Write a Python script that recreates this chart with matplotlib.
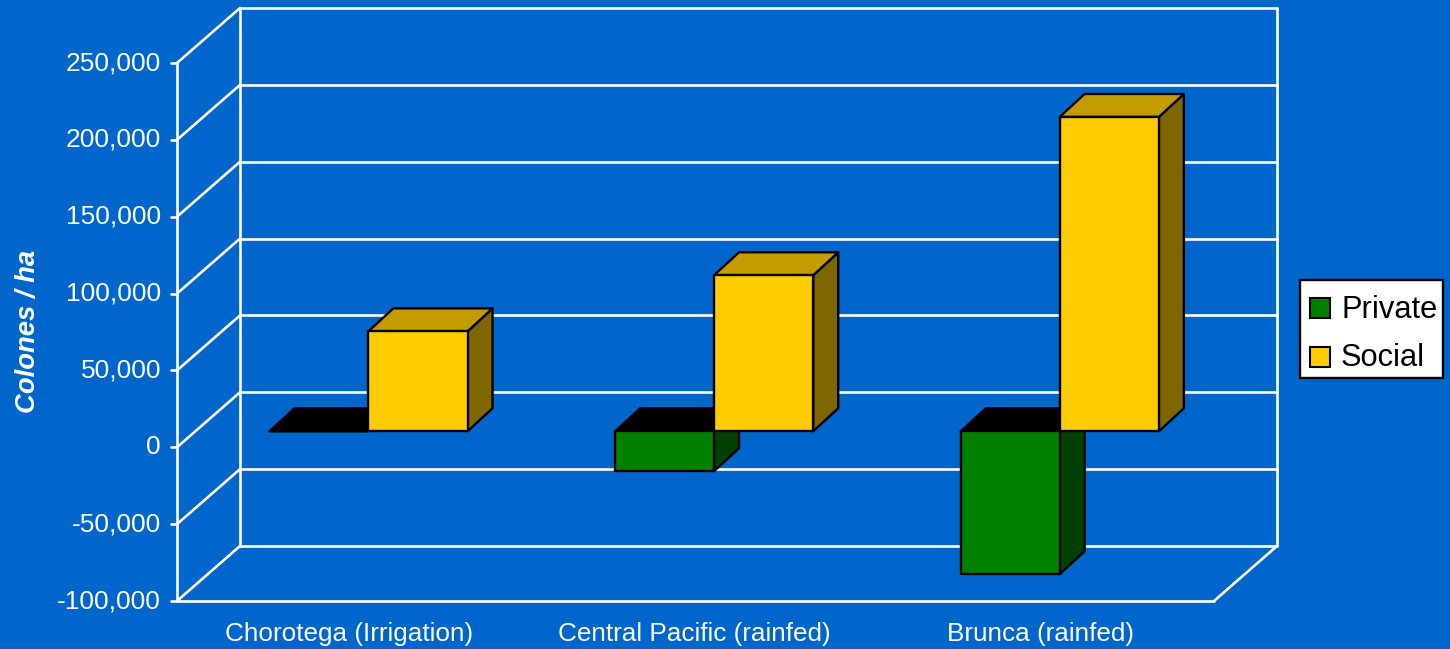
import matplotlib
matplotlib.use("Agg")
import matplotlib.pyplot as plt
from matplotlib.patches import Polygon, Rectangle

plt.rcParams['font.family'] = ['Liberation Sans', 'DejaVu Sans']

categories = ["Chorotega (Irrigation)", "Central Pacific (rainfed)", "Brunca (rainfed)"]
private = [0, -26000, -93000]
social = [65000, 101500, 204500]
y_ticks = [-100000, -50000, 0, 50000, 100000, 150000, 200000, 250000]

BG = "#0066CC"
W, H = 1450, 649
LEFT, RIGHT, TOP, BOTTOM = 177, 1214, 63, 601

# pixels -> data units for the fake 3d offsets
xu = 3 / (RIGHT - LEFT)
yu = 350000 / (BOTTOM - TOP)
wall_dx, wall_dy = 63 * xu, 55 * yu
bar_dx, bar_dy = 18.5 * xu, 16 * yu
side_dx, side_dy = 25 * xu, 23 * yu


def draw_bar(ax, x0, x1, v, color, top_color, side_color):
    x0, x1 = x0 + bar_dx, x1 + bar_dx
    lo, hi = min(0, v) + bar_dy, max(0, v) + bar_dy
    kw = dict(edgecolor="black", linewidth=1.7, clip_on=False, joinstyle="round")
    ax.add_patch(Polygon([(x1, lo), (x1 + side_dx, lo + side_dy), (x1 + side_dx, hi + side_dy), (x1, hi)],
                         facecolor=side_color, zorder=3, **kw))
    ax.add_patch(Polygon([(x0, hi), (x0 + side_dx, hi + side_dy), (x1 + side_dx, hi + side_dy), (x1, hi)],
                         facecolor=top_color, zorder=3, **kw))
    ax.add_patch(Rectangle((x0, lo), x1 - x0, hi - lo, facecolor=color, zorder=3, **kw))


fig = plt.figure(figsize=(W / 100, H / 100), dpi=100, facecolor=BG)
ax = fig.add_axes([LEFT / W, 1 - BOTTOM / H, (RIGHT - LEFT) / W, (BOTTOM - TOP) / H])
ax.set_xlim(0, 3)
ax.set_ylim(-100000, 250000)
ax.axis("off")

line = dict(color="white", linewidth=1.9, clip_on=False, zorder=1, solid_capstyle="round")

# walls and grid
for v in y_ticks:
    ax.plot([0, wall_dx], [v, v + wall_dy], **line)
    ax.plot([wall_dx, 3 + wall_dx], [v + wall_dy, v + wall_dy], **line)
    ax.plot([-6 * xu, 0], [v, v], **line)
    ax.text(-16 * xu, v, f"{v:,}", color="white", fontsize=19, ha="right", va="center")
ax.plot([0, 0], [-100000, 250000], **line)
ax.plot([wall_dx, wall_dx], [-100000 + wall_dy, 250000 + wall_dy], **line)
ax.plot([3 + wall_dx, 3 + wall_dx], [-100000 + wall_dy, 250000 + wall_dy], **line)
ax.plot([0, 3], [-100000, -100000], **line)
ax.plot([3, 3 + wall_dx], [-100000, -100000 + wall_dy], **line)

# bars
for i, name in enumerate(categories):
    draw_bar(ax, i + 0.214, i + 0.5, private[i], "#008000", "#000000", "#004000")
    draw_bar(ax, i + 0.5, i + 0.787, social[i], "#FFCC00", "#C49C00", "#806600")
    ax.text(i + 0.5 - 1 * xu, -100000 - 32.5 * yu, name, color="white", fontsize=18.8, ha="center", va="center")

ax.text(-149 * xu, 75500, "Colones / ha", color="white", fontsize=19.8, fontweight="bold",
        fontstyle="italic", rotation=90, ha="center", va="center")

# legend
fig.add_artist(Rectangle((1300 / W, 1 - 378 / H), 143 / W, 98 / H, transform=fig.transFigure,
                         facecolor="white", edgecolor="black", linewidth=1.7))
for name, color, ypx in [("Private", "#008000", 308), ("Social", "#FFCC00", 357)]:
    fig.add_artist(Rectangle((1310 / W, 1 - (ypx + 10) / H), 20 / W, 20 / H, transform=fig.transFigure,
                             facecolor=color, edgecolor="black", linewidth=1.5))
    fig.text(1341 / W, 1 - (ypx + 1.5) / H, name, color="black", fontsize=22.2, ha="left", va="center")

fig.savefig("out.png", dpi=100, facecolor=BG)
